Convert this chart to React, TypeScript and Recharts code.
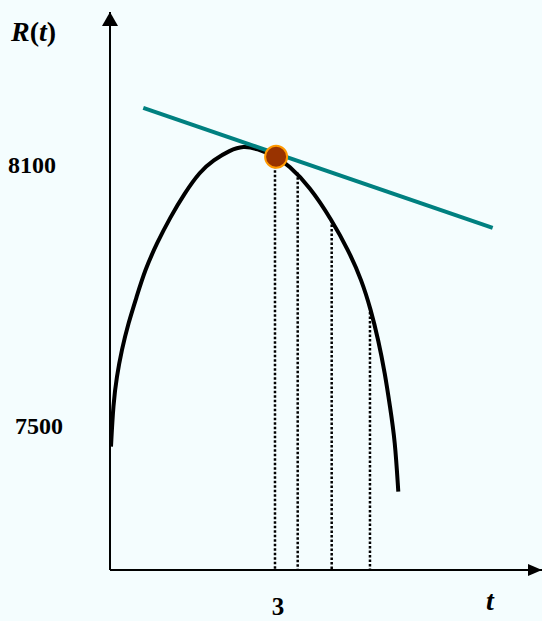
import React from "react"
import { ComposedChart, Line, XAxis, YAxis, ReferenceLine, ReferenceDot } from "recharts"

// R(t) curve
const curveT = [0.018, 0.06, 0.122, 0.213, 0.333, 0.485, 0.636, 0.849, 1.1, 1.355, 1.636, 1.878, 2.182, 2.424, 2.667, 3.031, 3.242, 3.636, 4.031, 4.333, 4.576, 4.745, 4.878, 5.0, 5.091, 5.182, 5.242]
const curveR = [7453, 7552, 7613, 7675, 7736, 7797, 7858, 7919, 7980, 8034, 8084, 8110, 8133, 8143, 8137, 8117, 8099, 8049, 7973, 7904, 7835, 7766, 7698, 7621, 7545, 7468, 7350]

// tangent line at t = 3
const tangentT = [0.605, 6.958]
const tangentR = [8230, 7955]

// point of tangency
const pointT = 3.02
const pointR = 8118

// dotted drop lines
const dropT = [3, 3.413, 4.031, 4.727]
const dropTopR = [8118, 8081, 7973, 7762]

const yTicks = [7500, 8100]
const xTicks = [3]

const T_MIN = 0
const T_MAX = 7.855
const R_MIN = 7170
const R_MAX = 8450

const curveData = curveT.map((t, i) => ({ t, r: curveR[i] }))
const tangentData = tangentT.map((t, i) => ({ t, r: tangentR[i] }))

const FONT = "'Liberation Serif', 'Times New Roman', serif"
const BG = "#f4fdfe"

const YTick = (props: any) => {
  const v = props.payload.value
  const x = v === 8100 ? 8 : 15
  return (
    <text x={x} y={props.y + 8} fontFamily={FONT} fontWeight="bold" fontSize={24} fill="#000">
      {v}
    </text>
  )
}

const XTick = (props: any) => (
  <text x={props.x + 3} y={615} textAnchor="middle" fontFamily={FONT} fontWeight="bold" fontSize={25} fill="#000">
    {props.payload.value}
  </text>
)

export default function App() {
  return (
    <div style={{ position: "absolute", left: 0, top: 0, width: 542, height: 621, background: BG }}>
      <ComposedChart width={542} height={621} margin={{ top: 12, right: 0, bottom: 0, left: 50 }}>
        <XAxis
          type="number"
          dataKey="t"
          domain={[T_MIN, T_MAX]}
          allowDataOverflow
          ticks={xTicks}
          tick={XTick}
          tickLine={false}
          axisLine={{ stroke: "#000", strokeWidth: 2 }}
          height={51}
          label={{
            content: () => (
              <text x={486} y={610} fontFamily={FONT} fontWeight="bold" fontStyle="italic" fontSize={28} fill="#000">
                t
              </text>
            ),
          }}
        />
        <YAxis
          type="number"
          dataKey="r"
          domain={[R_MIN, R_MAX]}
          allowDataOverflow
          ticks={yTicks}
          tick={YTick}
          tickLine={false}
          axisLine={{ stroke: "#000", strokeWidth: 2 }}
          width={60}
          label={{
            content: () => (
              <text x={11} y={41} fontFamily={FONT} fontWeight="bold" fontSize={28} fill="#000">
                <tspan fontStyle="italic">R</tspan>
                <tspan>(</tspan>
                <tspan fontStyle="italic">t</tspan>
                <tspan>)</tspan>
              </text>
            ),
          }}
        />
        {dropT.map((t, i) => (
          <ReferenceLine
            key={t}
            segment={[
              { x: t, y: dropTopR[i] },
              { x: t, y: R_MIN },
            ]}
            stroke="#000"
            strokeWidth={2.5}
            strokeDasharray="2.5 2"
          />
        ))}
        <Line
          data={curveData}
          dataKey="r"
          type="basis"
          stroke="#000"
          strokeWidth={4}
          dot={false}
          activeDot={false}
          isAnimationActive={false}
        />
        <Line
          data={tangentData}
          dataKey="r"
          type="linear"
          stroke="#008080"
          strokeWidth={4}
          dot={false}
          activeDot={false}
          isAnimationActive={false}
        />
        <ReferenceDot x={pointT} y={pointR} r={11} fill="#993300" stroke="#ff9900" strokeWidth={2} />
        <ReferenceDot
          x={T_MAX}
          y={R_MIN}
          shape={(p: any) => <polygon points={`${p.cx},${p.cy} ${p.cx - 14},${p.cy - 6} ${p.cx - 14},${p.cy + 6}`} fill="#000" />}
        />
        <ReferenceDot
          x={T_MIN}
          y={R_MAX}
          shape={(p: any) => <polygon points={`${p.cx},${p.cy} ${p.cx - 8},${p.cy + 14} ${p.cx + 8},${p.cy + 14}`} fill="#000" />}
        />
      </ComposedChart>
    </div>
  )
}
